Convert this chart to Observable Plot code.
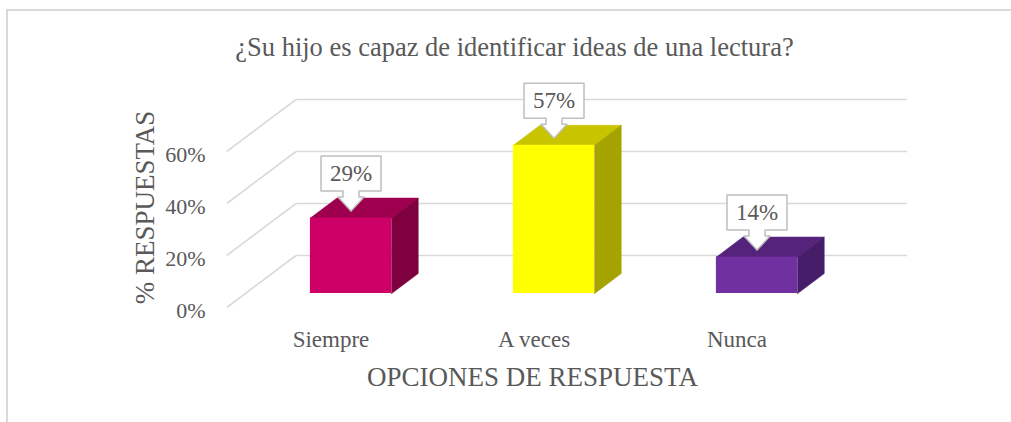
<!DOCTYPE html>
<html>
<head>
<meta charset="utf-8">
<script src="https://cdn.jsdelivr.net/npm/d3@7"></script>
<script src="https://cdn.jsdelivr.net/npm/@observablehq/plot@0.6"></script>
<style>
  html, body { margin: 0; padding: 0; background: #ffffff; }
  body { width: 1011px; height: 422px; overflow: hidden; position: relative;
         font-family: "Liberation Serif", "Times New Roman", Times, "DejaVu Serif", serif; color: #595959; }
  #frame { position: absolute; left: 6px; top: 9px; width: 1030px; height: 440px;
           border-left: 2px solid #d9d9d9; border-top: 2px solid #d9d9d9; box-sizing: border-box; }
  #title { position: absolute; left: 0; top: 30px; width: 1029px; height: 34px; line-height: 34px;
           text-align: center; font-size: 26.5px; color: #595959;
           font-family: "Liberation Serif", "Times New Roman", Times, "DejaVu Serif", serif; }
  #chart { position: absolute; left: 0; top: 70px; }
</style>
</head>
<body>
<div id="frame"></div>
<div id="title">¿Su hijo es capaz de identificar ideas de una lectura?</div>
<div id="chart"></div>
<script>
// ---- data ----
const categories = ["Siempre", "A veces", "Nunca"];
const values = [29, 57, 14];
const valueLabels = ["29%", "57%", "14%"];
const frontColors = ["#CC0066", "#FFFF00", "#7030A0"];
const topColors = ["#9E004F", "#C9C400", "#55237C"];
const sideColors = ["#7E003F", "#A5A300", "#461D68"];
const yTicks = [0, 20, 40, 60];
const yTickLabels = ["0%", "20%", "40%", "60%"];
const xTitle = "OPCIONES DE RESPUESTA";
const yTitle = "% RESPUESTAS";

// ---- layout ----
const FONT = "'Liberation Serif', 'Times New Roman', Times, 'DejaVu Serif', serif";
const W = 1011, H = 352;
const xRange = [350.5, 756.5], yRange = [223, 67];
const pxX = (xRange[1] - xRange[0]) / 2;   // px per category unit
const pxY = (yRange[0] - yRange[1]) / 60;  // px per percent
const slant = 1.33;
const dep = z => [slant * z / pxX, z / pxY];  // oblique depth offset in data units
const half = 0.2;                 // half bar width
const [bx, by] = dep(20);         // bar depth
const [wbx, wby] = dep(38);       // back wall
const [wfx, wfy] = dep(-14);      // front edge of floor/side wall
const xL = -0.52, xR = 2.49;

const bars = categories.map((c, i) => ({
  i, c, v: values[i], label: valueLabels[i],
  front: frontColors[i], top: topColors[i], side: sideColors[i]
}));

const polys = [];
bars.forEach(b => {
  const L = b.i - half, R = b.i + half, v = b.v;
  polys.push({fill: b.top, pts: [[L, v], [R, v], [R + bx, v + by], [L + bx, v + by], [L, v]]});
  polys.push({fill: b.side, pts: [[R, 0], [R, v], [R + bx, v + by], [R + bx, by], [R, 0]]});
});

// callout shape in px (x right, y up) relative to tip
const callout = [[-30,20],[-8,20],[-8,14],[-13,14],[0,0],[13,14],[8,14],[8,20],[30,20],[30,55],[-30,55],[-30,20]];
const tipGap = 7;

const marks = [];
marks.push(Plot.link(yTicks, {
  x1: () => xL + wbx, y1: d => d + wby, x2: () => xR + wbx, y2: d => d + wby,
  stroke: "#D9D9D9", strokeWidth: 1.6
}));
marks.push(Plot.link(yTicks, {
  x1: () => xL + wbx, y1: d => d + wby, x2: () => xL + wfx, y2: d => d + wfy,
  stroke: "#D9D9D9", strokeWidth: 1.6
}));
polys.forEach(p => {
  marks.push(Plot.line(p.pts, {x: d => d[0], y: d => d[1], fill: p.fill, stroke: p.fill, strokeWidth: 0.6}));
});
marks.push(Plot.rect(bars, {x1: d => d.i - half, x2: d => d.i + half, y1: () => 0, y2: "v", fill: "front"}));
bars.forEach(b => {
  const pts = callout.map(([px, py]) => [b.i + px / pxX, b.v + (tipGap + py) / pxY]);
  marks.push(Plot.line(pts, {x: d => d[0], y: d => d[1], fill: "white", stroke: "#BFBFBF", strokeWidth: 1.5}));
});
marks.push(Plot.text(bars, {x: "i", y: "v", text: "label", dy: -(tipGap + 37.5), fontSize: 23, fill: "#595959", fontFamily: FONT}));
marks.push(Plot.axisY(yTicks, {tickFormat: (d, k) => yTickLabels[k], tickSize: 0, tickPadding: 10, dy: 17.5, fontSize: 22, label: null, fontFamily: FONT}));
marks.push(Plot.axisX([0, 1, 2], {tickFormat: d => categories[d], tickSize: 0, tickPadding: 1, dx: -20, fontSize: 23, label: null, fontFamily: FONT}));
marks.push(Plot.text([yTitle], {frameAnchor: "left", textAnchor: "middle", lineAnchor: "middle", rotate: -90, dx: -70, dy: -7, fontSize: 27, fill: "#595959", fontFamily: FONT}));
marks.push(Plot.text([xTitle], {frameAnchor: "bottom", textAnchor: "middle", lineAnchor: "middle", dy: 48, fontSize: 27, fill: "#595959", fontFamily: FONT}));

const chart = Plot.plot({
  width: W, height: H,
  marginLeft: 215, marginRight: 162, marginTop: 29, marginBottom: 93,
  x: {type: "linear", domain: [0, 2], range: xRange},
  y: {type: "linear", domain: [0, 60], range: yRange},
  color: {type: "identity"},
  style: {fontFamily: FONT, color: "#595959", background: "transparent", overflow: "visible"},
  marks
});
document.getElementById("chart").appendChild(chart);
</script>
</body>
</html>
